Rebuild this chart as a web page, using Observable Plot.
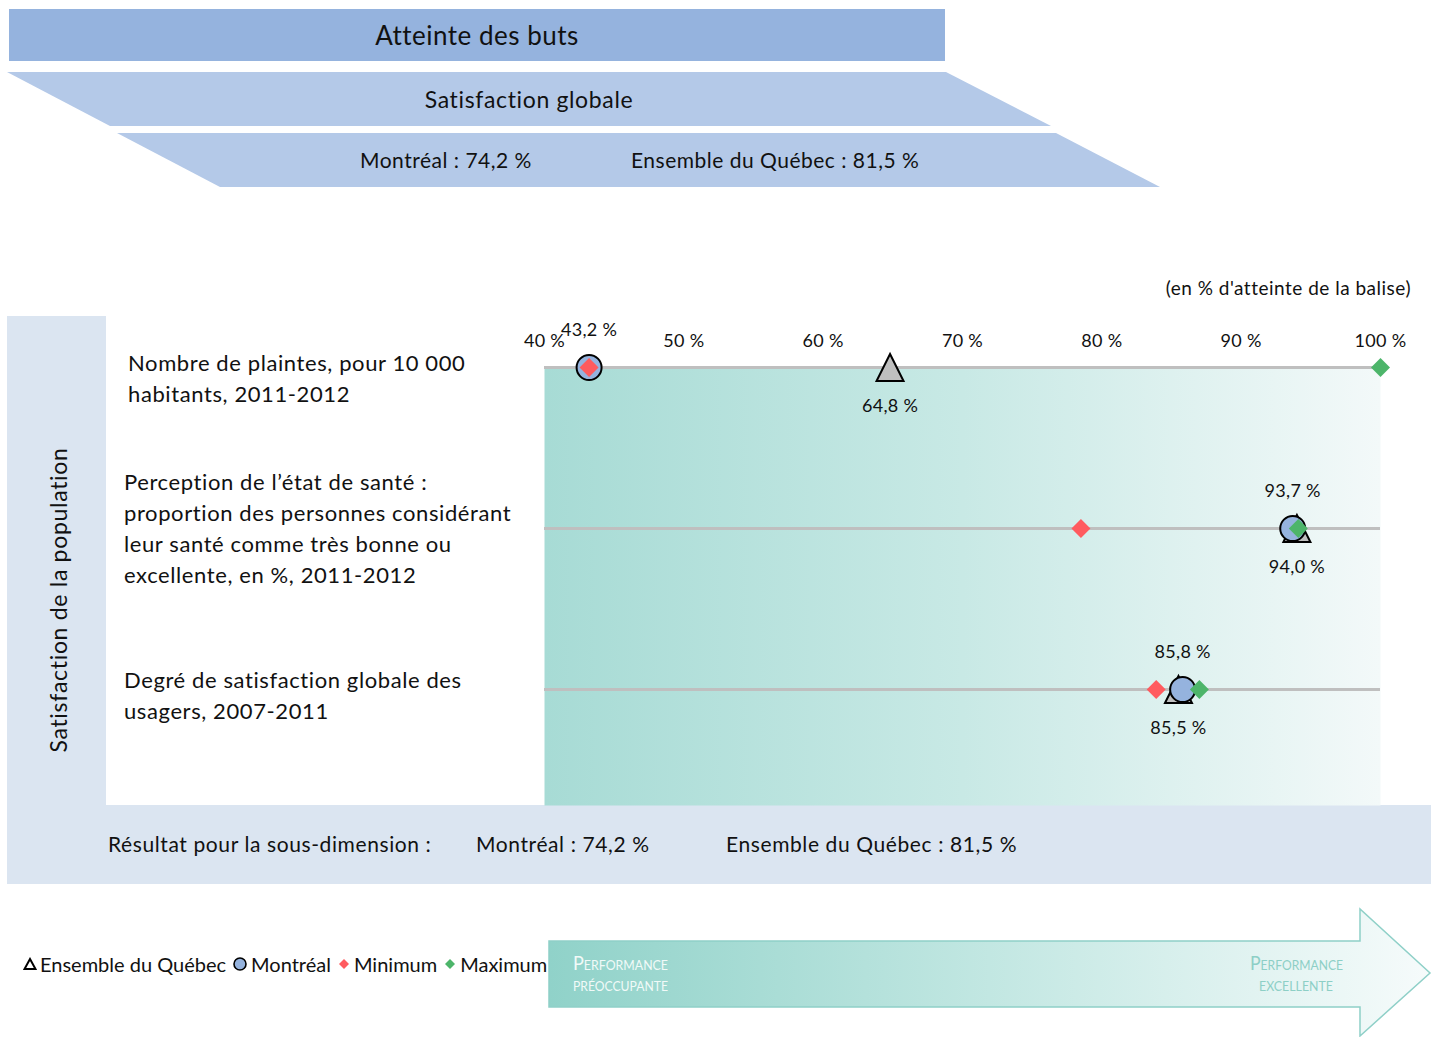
<!DOCTYPE html>
<html lang="fr">
<head>
<meta charset="utf-8">
<script src="https://cdn.jsdelivr.net/npm/d3@7"></script>
<script src="https://cdn.jsdelivr.net/npm/@observablehq/plot@0.6"></script>
<style>
  html, body { margin: 0; padding: 0; background: #fff; }
  body { width: 1432px; height: 1037px; position: relative; overflow: hidden; font-family: Lato, "Open Sans", sans-serif; color: #111; }
  .abs { position: absolute; white-space: nowrap; }
  #chart { position: absolute; left: 0; top: 316px; }
  .rowlabel { position: absolute; font-size: 22px; letter-spacing: 0.6px; line-height: 31px; color: #111; white-space: nowrap; }
  .legend { position: absolute; left: 23px; top: 952px; font-size: 20px; display: flex; align-items: center; white-space: nowrap; }
  .legend svg { vertical-align: middle; }
</style>
</head>
<body>
<svg width="0" height="0" style="position:absolute">
  <defs>
    <linearGradient id="tealGrad" x1="0" x2="1" y1="0" y2="0">
      <stop offset="0" stop-color="#a7dbd5"/>
      <stop offset="0.5" stop-color="#c8e9e5"/>
      <stop offset="1" stop-color="#f3f9f9"/>
    </linearGradient>
    <linearGradient id="arrowGrad" x1="0" x2="1" y1="0" y2="0">
      <stop offset="0" stop-color="#90d2c9"/>
      <stop offset="0.5" stop-color="#c2e7e2"/>
      <stop offset="1" stop-color="#f6fbfb"/>
    </linearGradient>
  </defs>
</svg>

<!-- Header banners -->
<svg class="abs" style="left:0;top:0" width="1432" height="200">
  <rect x="9" y="9" width="936" height="52" fill="#95b3de"/>
  <polygon points="7,72 946,72 1051,126 110,126" fill="#b4c9e8"/>
  <polygon points="117,133 1056,133 1160,187 220,187" fill="#b4c9e8"/>
  <text id="h1" x="477" y="45" text-anchor="middle" font-size="26" letter-spacing="0.5" font-family="Lato, sans-serif" fill="#111">Atteinte des buts</text>
  <text id="h2" x="529" y="108" text-anchor="middle" font-size="23" letter-spacing="0.65" font-family="Lato, sans-serif" fill="#111">Satisfaction globale</text>
  <text id="h3a" x="360" y="168" font-size="21" letter-spacing="0.5" font-family="Lato, sans-serif" fill="#111"></text>
  <text id="h3b" x="631" y="168" font-size="21" letter-spacing="0.5" font-family="Lato, sans-serif" fill="#111"></text>
</svg>

<!-- Left panel & bottom band -->
<div class="abs" style="left:7px;top:316px;width:99px;height:568px;background:#dbe5f1"></div>
<div class="abs" style="left:7px;top:805px;width:1424px;height:79px;background:#dbe5f1"></div>
<div class="abs" style="left:58px;top:600px;transform:translate(-50%,-50%) rotate(-90deg);font-size:23px;letter-spacing:0.7px;">Satisfaction de la population</div>

<div class="abs" style="right:21px;top:276px;font-size:19px;letter-spacing:0.5px;">(en % d'atteinte de la balise)</div>

<div id="chart"></div>
<div id="rowlabels"></div>

<div class="abs" id="bandA" style="left:108px;top:831px;font-size:21px;letter-spacing:0.6px;">Résultat pour la sous-dimension :</div>
<div class="abs" id="bandB" style="left:476px;top:831px;font-size:21px;letter-spacing:0.6px;"></div>
<div class="abs" id="bandC" style="left:726px;top:831px;font-size:21px;letter-spacing:0.6px;"></div>

<div class="legend" id="legend"></div>

<!-- Performance arrow -->
<svg class="abs" style="left:0;top:900px" width="1432" height="137">
  <polygon points="549,41 1360,41 1360,9 1430,73 1360,136 1360,107 549,107" fill="url(#arrowGrad)" stroke="#8fd0c8" stroke-width="1.5"/>
  <text x="573" y="70" font-size="19" font-family="Lato, sans-serif" fill="#f1faf8" style="font-variant:small-caps" textLength="95" lengthAdjust="spacingAndGlyphs">Performance</text>
  <text x="573" y="91" font-size="19" font-family="Lato, sans-serif" fill="#f1faf8" style="font-variant:small-caps" textLength="95" lengthAdjust="spacingAndGlyphs">préoccupante</text>
  <text x="1250" y="70" font-size="19" font-family="Lato, sans-serif" fill="#8dcfc6" style="font-variant:small-caps" textLength="93" lengthAdjust="spacingAndGlyphs">Performance</text>
  <text x="1259" y="91" font-size="19" font-family="Lato, sans-serif" fill="#8dcfc6" style="font-variant:small-caps" textLength="74" lengthAdjust="spacingAndGlyphs">excellente</text>
</svg>

<script>
// ---------- Data ----------
const indicators = [
  "Nombre de plaintes, pour 10 000 habitants, 2011-2012",
  "Perception de l’état de santé : proportion des personnes considérant leur santé comme très bonne ou excellente, en %, 2011-2012",
  "Degré de satisfaction globale des usagers, 2007-2011"
];
const indicatorLines = [
  ["Nombre de plaintes, pour 10 000", "habitants, 2011-2012"],
  ["Perception de l’état de santé :", "proportion des personnes considérant", "leur santé comme très bonne ou", "excellente, en %, 2011-2012"],
  ["Degré de satisfaction globale des", "usagers, 2007-2011"]
];
const quebec   = [64.8, 94.0, 85.5];
const montreal = [43.2, 93.7, 85.8];
const minimum  = [43.2, 78.5, 83.9];
const maximum  = [100.0, 94.1, 87.0];
const xTicks   = [40, 50, 60, 70, 80, 90, 100];
const summaryMontreal = 74.2;
const summaryQuebec = 81.5;
const legendLabels = ["Ensemble du Québec", "Montréal", "Minimum", "Maximum"];

// ---------- Helpers ----------
const fr = v => v.toFixed(1).replace(".", ",") + " %";
const triSym = {draw(ctx, size) { const r = Math.sqrt(size / Math.PI); ctx.moveTo(0, -r); ctx.lineTo(r, r); ctx.lineTo(-r, r); ctx.closePath(); }};
const diaSym = {draw(ctx, size) { const r = Math.sqrt(size / Math.PI); ctx.moveTo(0, -r); ctx.lineTo(r, 0); ctx.lineTo(0, r); ctx.lineTo(-r, 0); ctx.closePath(); }};

const colMontreal = "#95b3de", colQuebec = "#bfbfbf", colMin = "#ff5b5f", colMax = "#4db56a";

// ---------- Header / band texts ----------
document.getElementById("h3a").textContent = "Montréal : " + fr(summaryMontreal);
document.getElementById("h3b").textContent = "Ensemble du Québec : " + fr(summaryQuebec);
document.getElementById("bandB").textContent = "Montréal : " + fr(summaryMontreal);
document.getElementById("bandC").textContent = "Ensemble du Québec : " + fr(summaryQuebec);

// ---------- Chart ----------
const rows = indicators.map((d, i) => ({
  indicator: d, quebec: quebec[i], montreal: montreal[i], min: minimum[i], max: maximum[i]
}));

const chart = Plot.plot({
  width: 1432,
  height: 489,
  marginLeft: 544,
  marginRight: 52,
  marginTop: 51,
  marginBottom: 0,
  style: {background: "transparent", fontFamily: "Lato, sans-serif", fontSize: "18px", letterSpacing: "0.3px", color: "#111", overflow: "visible"},
  x: {domain: [40, 100], axis: "top", ticks: xTicks, tickFormat: d => `${d} %`, tickSize: 0, tickPadding: 21, label: null},
  y: {type: "point", domain: indicators, range: [51, 373], padding: 0, axis: null},
  marks: [
    Plot.frame({fill: "url(#tealGrad)", stroke: "none"}),
    Plot.ruleY(rows, {y: "indicator", stroke: "#bfbfbf", strokeWidth: 3}),
    Plot.dot(rows, {x: "quebec", y: "indicator", symbol: triSym, r: 13.5, fill: colQuebec, stroke: "#000", strokeWidth: 2}),
    Plot.dot(rows, {x: "montreal", y: "indicator", symbol: "circle", r: 12.5, fill: colMontreal, stroke: "#000", strokeWidth: 2}),
    Plot.dot(rows, {x: "min", y: "indicator", symbol: diaSym, r: 9.5, fill: colMin, stroke: "none"}),
    Plot.dot(rows, {x: "max", y: "indicator", symbol: diaSym, r: 9.5, fill: colMax, stroke: "none"}),
    Plot.text(rows, {x: "montreal", y: "indicator", text: d => fr(d.montreal), dy: -37, fontSize: 18, fill: "#111"}),
    Plot.text(rows, {x: "quebec", y: "indicator", text: d => fr(d.quebec), dy: 39, fontSize: 18, fill: "#111"})
  ]
});
document.getElementById("chart").appendChild(chart);

// ---------- Row labels ----------
const rowTops = [347, 466, 664];
const rowLefts = [128, 124, 124];
const rl = document.getElementById("rowlabels");
indicatorLines.forEach((lines, i) => {
  const div = document.createElement("div");
  div.className = "rowlabel";
  div.style.left = rowLefts[i] + "px";
  div.style.top = rowTops[i] + "px";
  div.innerHTML = lines.join("<br>");
  rl.appendChild(div);
});

// ---------- Legend ----------
const legendSyms = [
  `<svg width="14" height="14"><path d="M7,2 L12.5,12 L1.5,12 Z" fill="none" stroke="#000" stroke-width="2"/></svg>`,
  `<svg width="16" height="16"><circle cx="8" cy="8" r="6" fill="${colMontreal}" stroke="#000" stroke-width="1.6"/></svg>`,
  `<svg width="14" height="14"><path d="M7,2 L12,7 L7,12 L2,7 Z" fill="${colMin}"/></svg>`,
  `<svg width="14" height="14"><path d="M7,2 L12,7 L7,12 L2,7 Z" fill="${colMax}"/></svg>`
];
document.getElementById("legend").innerHTML = legendLabels.map((l, i) =>
  `<span style="display:inline-flex;align-items:center;gap:3px;margin-right:6px">${legendSyms[i]}<span>${l}</span></span>`).join("");
</script>
</body>
</html>
